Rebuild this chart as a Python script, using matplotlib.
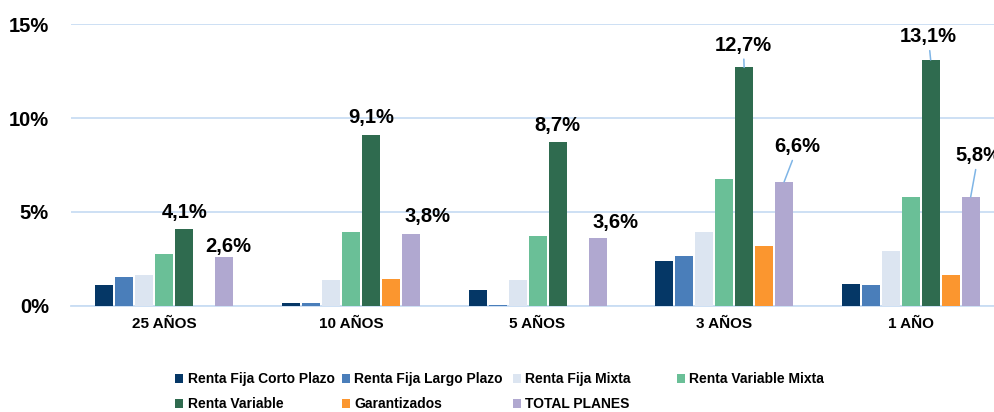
import numpy as np
import matplotlib
matplotlib.use('Agg')
import matplotlib.pyplot as plt
from matplotlib.patches import Patch

# datos: rentabilidad media anual de los planes de pensiones (%)
periodos = ['25 AÑOS', '10 AÑOS', '5 AÑOS', '3 AÑOS', '1 AÑO']
categorias = ['Renta Fija Corto Plazo', 'Renta Fija Largo Plazo', 'Renta Fija Mixta',
              'Renta Variable Mixta', 'Renta Variable', 'Garantizados', 'TOTAL PLANES']

rf_corto = [1.10, 0.12, 0.85, 2.36, 1.15]
rf_largo = [1.54, 0.16, 0.05, 2.66, 1.12]
rf_mixta = [1.65, 1.35, 1.35, 3.94, 2.93]
rv_mixta = [2.77, 3.94, 3.69, 6.76, 5.80]
renta_variable = [4.1, 9.1, 8.7, 12.7, 13.1]
garantizados = [np.nan, 1.44, np.nan, 3.16, 1.65]
total_planes = [2.6, 3.8, 3.6, 6.6, 5.8]

y_ticks = [0, 5, 10, 15]
y_ticklabels = ['0%', '5%', '10%', '15%']

colores = ['#053766', '#4A7EBA', '#DCE5F1', '#6ABF97', '#2F6B4F', '#FB962F', '#B0A8D0']

series = [rf_corto, rf_largo, rf_mixta, rv_mixta, renta_variable, garantizados, total_planes]

plt.rcParams['font.family'] = ['Liberation Sans', 'DejaVu Sans']
plt.rcParams['font.weight'] = 'bold'

fig = plt.figure(figsize=(9.95, 4.12), dpi=100)
ax = fig.add_axes([0.0715, 0.258, 0.9375, 0.683])

x = np.arange(len(periodos))
paso = 0.1072
ancho = 0.0965
for i, (vals, col) in enumerate(zip(series, colores)):
    ax.bar(x + (i - 3) * paso, vals, width=ancho, color=col, zorder=3)

ax.set_xlim(-0.5, len(periodos) - 0.5)
ax.set_ylim(0, 15)
ax.set_yticks(y_ticks)
ax.set_yticklabels(y_ticklabels, fontsize=14.5, fontweight='bold')
ax.set_xticks(x)
ax.set_xticklabels(periodos, fontsize=11, fontweight='bold')
ax.tick_params(axis='both', length=0)
ax.tick_params(axis='y', pad=16)
ax.tick_params(axis='x', pad=8)
ax.grid(axis='y', color='#C9DDF3', linewidth=1.3, zorder=0)
for s in ['top', 'right', 'left']:
    ax.spines[s].set_visible(False)
ax.spines['bottom'].set_color('#C9DDF3')
ax.spines['bottom'].set_linewidth(1.3)

# posición de las etiquetas (desplazamiento en px respecto a la parte alta de la barra)
off_rv = [(0, 16), (0, 17), (0, 17), (-0.7, 22), (-2.3, 23)]
off_tp = [(3.5, 10), (16.5, 18), (18, 15.5), (13.5, 35), (7.5, 41)]
linea_rv = [False, False, False, True, True]
linea_tp = [False, False, False, True, True]

def etiquetas(idx, offs, lineas):
    for j, v in enumerate(series[idx]):
        xb = x[j] + (idx - 3) * paso
        props = None
        if lineas[j]:
            props = dict(arrowstyle='-', color='#7FB5E6', lw=1.1, shrinkA=1, shrinkB=0)
        ax.annotate(f'{v:.1f}%'.replace('.', ','), xy=(xb, v),
                    xytext=(offs[j][0] * 0.72, offs[j][1] * 0.72), textcoords='offset points',
                    ha='center', va='center', fontsize=14.5, fontweight='bold',
                    arrowprops=props, annotation_clip=False, zorder=5)

etiquetas(4, off_rv, linea_rv)
etiquetas(6, off_tp, linea_tp)

# leyenda en 4 columnas
columnas = [[0, 4], [1, 5], [2, 6], [3]]
x_col = [175, 342, 513, 677]
for c, idxs in enumerate(columnas):
    handles = [Patch(facecolor=colores[i]) for i in idxs]
    labels = [categorias[i] for i in idxs]
    fig.legend(handles, labels, loc='upper left', bbox_to_anchor=(x_col[c] / 995, 0.096),
               frameon=False, borderpad=0, handlelength=0.6, handleheight=0.6,
               handletextpad=0.3, labelspacing=0.78, borderaxespad=0,
               prop={'weight': 'bold', 'size': 10})

fig.savefig('out.png', dpi=100)
